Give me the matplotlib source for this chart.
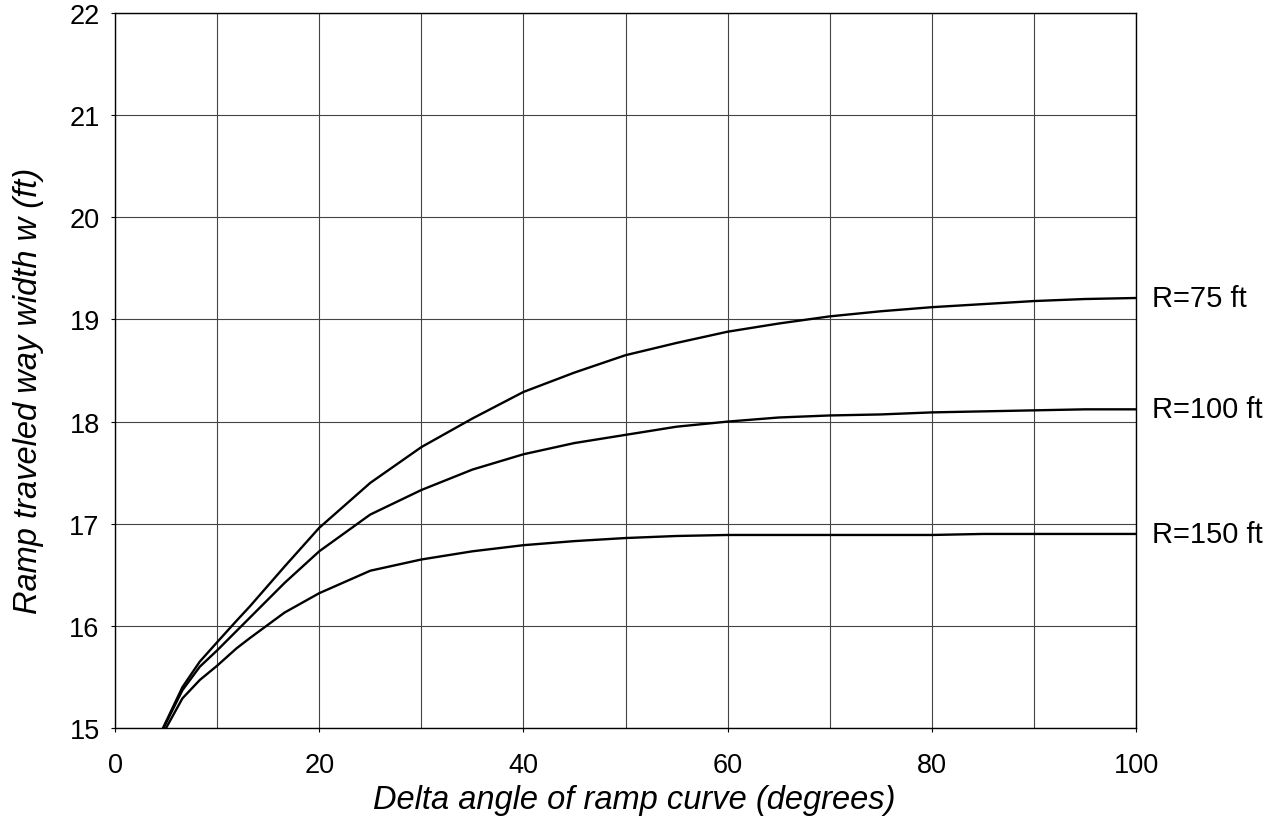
import matplotlib
matplotlib.use("Agg")
import matplotlib.pyplot as plt

plt.rcParams['font.family'] = ['Liberation Sans', 'DejaVu Sans']

# delta angle (degrees) sample points shared by all curves; first entry differs
angle = [6.6, 8.3, 10, 11.9, 13.2, 16.6, 20, 25, 30, 35, 40, 45, 50,
         55, 60, 65, 70, 75, 80, 85, 90, 95, 100]

# traveled way width w (ft), one list per ramp radius
start_r75, w_r75 = 4.7, [15.0, 15.40, 15.65, 15.84, 16.05, 16.19, 16.58,
                         16.96, 17.40, 17.75, 18.03, 18.29, 18.48, 18.65,
                         18.77, 18.88, 18.96, 19.03, 19.08, 19.12, 19.15,
                         19.18, 19.20, 19.21]
start_r100, w_r100 = 4.75, [15.0, 15.37, 15.60, 15.76, 15.95, 16.08, 16.42,
                            16.73, 17.09, 17.33, 17.53, 17.68, 17.79, 17.87,
                            17.95, 18.00, 18.04, 18.06, 18.07, 18.09, 18.10,
                            18.11, 18.12, 18.12]
start_r150, w_r150 = 5.0, [15.0, 15.29, 15.47, 15.61, 15.78, 15.88, 16.13,
                           16.32, 16.54, 16.65, 16.73, 16.79, 16.83, 16.86,
                           16.88, 16.89, 16.89, 16.89, 16.89, 16.89, 16.90,
                           16.90, 16.90, 16.90]

curves = [
    ([start_r75] + angle, w_r75, "R=75 ft"),
    ([start_r100] + angle, w_r100, "R=100 ft"),
    ([start_r150] + angle, w_r150, "R=150 ft"),
]

fig = plt.figure(figsize=(12.88, 8.29), dpi=100)
ax = fig.add_axes([0.0893, 0.1206, 0.7927, 0.8625])

for x, y, label in curves:
    ax.plot(x, y, color='black', lw=1.7, solid_joinstyle='round')
    ax.text(101.6, y[-1], label, fontsize=21, va='center', ha='left',
            clip_on=False)

ax.set_xlim(0, 100)
ax.set_ylim(15, 22)
ax.set_xticks(range(0, 101, 20))
ax.set_xticks(range(0, 101, 10), minor=True)
ax.set_yticks(range(15, 23))
ax.grid(True, which='both', color='#444444', lw=0.8)
ax.tick_params(which='major', length=3, width=0.8, labelsize=19.5)
ax.tick_params(axis='x', which='major', pad=14)
ax.tick_params(axis='y', which='major', pad=8)
ax.tick_params(which='minor', length=0)
for s in ax.spines.values():
    s.set_linewidth(1.0)

ax.set_xlabel("Delta angle of ramp curve (degrees)", fontsize=23.5,
              style='italic')
ax.set_ylabel("Ramp traveled way width w (ft)", fontsize=23.5,
              style='italic')
ax.xaxis.set_label_coords(0.509, -0.078)
ax.yaxis.set_label_coords(-0.07, 0.473)

fig.savefig("out.png", dpi=100)
